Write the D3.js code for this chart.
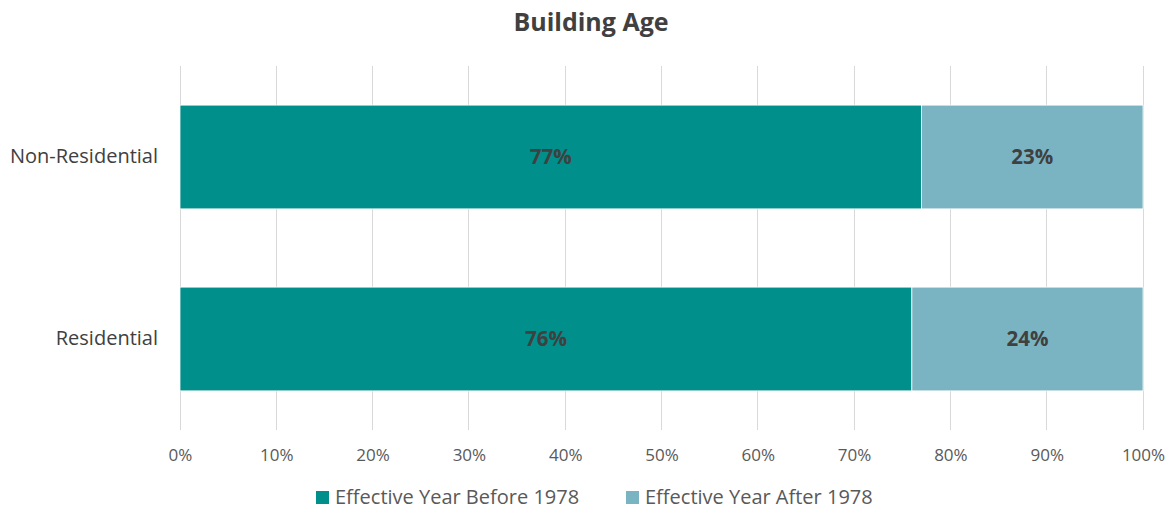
<!DOCTYPE html>
<html><head><meta charset="utf-8">
<script src="https://cdn.jsdelivr.net/npm/d3@7"></script>
<style>body{margin:0;background:#fff}svg{display:block}</style>
</head><body><svg id="c" width="1171" height="510"></svg>
<script>
const categories = ["Non-Residential", "Residential"];
const seriesNames = ["Effective Year Before 1978", "Effective Year After 1978"];
const before1978 = [77, 76];
const after1978 = [23, 24];
const tickValues = [0, 10, 20, 30, 40, 50, 60, 70, 80, 90, 100];
const colors = ["#008F8A", "#7AB4C2"];

const FONT = "Open Sans, sans-serif";
const svg = d3.select("#c");
const m = {left: 180, right: 28, top: 66, bottom: 80};
const x = d3.scaleLinear().domain([0, 100]).range([m.left, 1143]);
const y = d3.scaleBand().domain(categories).range([m.top, 430]).paddingInner(0.43).paddingOuter(0.215);

svg.append("text").attr("x", 591).attr("y", 31).attr("text-anchor", "middle")
  .attr("font-family", FONT).attr("font-weight", "bold").attr("font-size", 25)
  .attr("fill", "#404040").text("Building Age");

svg.append("g").selectAll("line").data(tickValues).join("line")
  .attr("x1", d => x(d)).attr("x2", d => x(d)).attr("y1", 66).attr("y2", 430)
  .attr("stroke", "#D9D9D9").attr("stroke-width", 1).attr("shape-rendering", "crispEdges");

const xAxis = d3.axisBottom(x).tickValues(tickValues).tickFormat(d => d + "%").tickSize(0).tickPadding(0);
const gx = svg.append("g").attr("transform", "translate(0,461)").call(xAxis);
gx.select(".domain").remove();
gx.selectAll("text").attr("font-family", FONT).attr("font-size", 17).attr("fill", "#595959").attr("dy", 0);

const yAxis = d3.axisLeft(y).tickSize(0).tickPadding(22);
const gy = svg.append("g").attr("transform", `translate(${m.left},0)`).call(yAxis);
gy.select(".domain").remove();
gy.selectAll("text").attr("font-family", FONT).attr("font-size", 20).attr("fill", "#404040");

const stacked = categories.map((c, i) => [
  {cat: c, s: 0, x0: 0, x1: before1978[i], v: before1978[i]},
  {cat: c, s: 1, x0: before1978[i], x1: before1978[i] + after1978[i], v: after1978[i]}
]).flat();

svg.append("g").selectAll("rect").data(stacked).join("rect")
  .attr("x", d => x(d.x0)).attr("width", d => x(d.x1) - x(d.x0))
  .attr("y", d => y(d.cat)).attr("height", y.bandwidth())
  .attr("fill", d => colors[d.s]).attr("stroke", "#fff").attr("stroke-width", 0.75);

svg.append("g").selectAll("text").data(stacked).join("text")
  .attr("x", d => x((d.x0 + d.x1) / 2)).attr("y", d => y(d.cat) + y.bandwidth() / 2)
  .attr("dy", "0.35em").attr("text-anchor", "middle")
  .attr("font-family", FONT).attr("font-weight", "bold").attr("font-size", 20.5)
  .attr("fill", "#404040").text(d => d.v + "%");

const legX = [316, 626];
const lg = svg.append("g");
seriesNames.forEach((n, i) => {
  lg.append("rect").attr("x", legX[i]).attr("y", 491).attr("width", 13).attr("height", 13).attr("fill", colors[i]);
  lg.append("text").attr("x", legX[i] + 19).attr("y", 504).attr("font-family", FONT)
    .attr("font-size", 20).attr("fill", "#595959").text(n);
});
</script></body></html>
